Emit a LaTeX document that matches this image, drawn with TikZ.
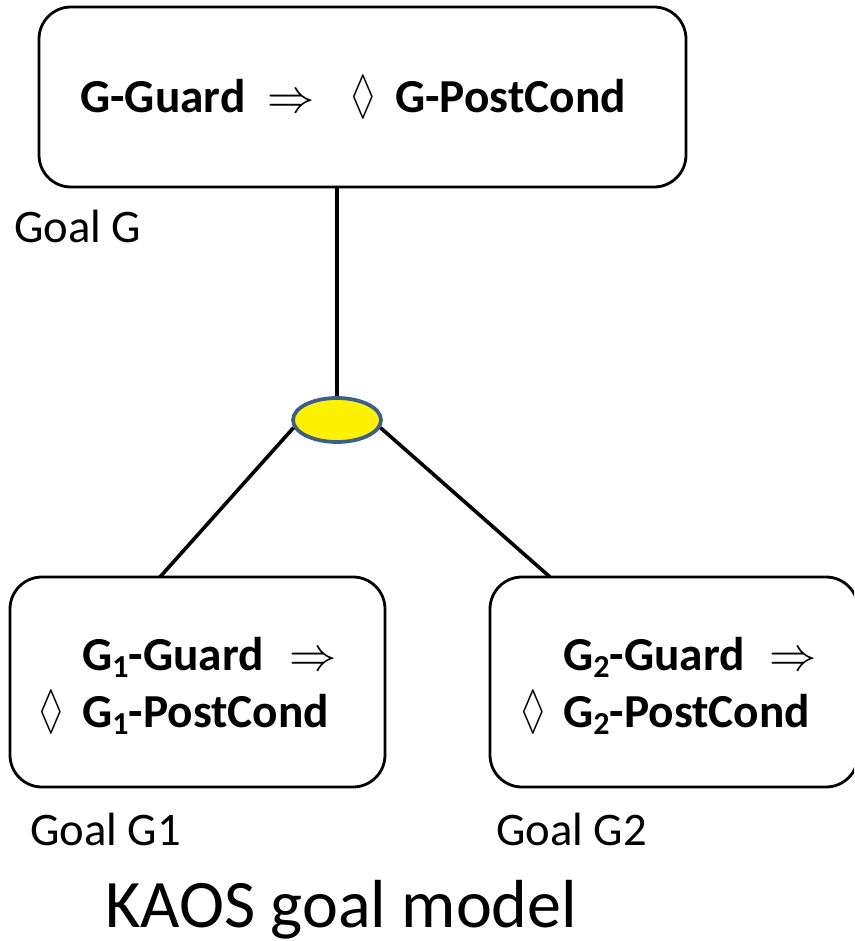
\RequirePackage{fix-cm}
\documentclass[tikz,border=0pt]{standalone}
\usepackage{fontspec}
\usepackage{amssymb}
\usepackage{graphicx}
\setmainfont{Carlito}
\definecolor{ellborder}{HTML}{3B5E8C}
\newcommand\gsub[1]{\raisebox{-0.32ex}{\fontsize{24}{24}\selectfont #1}}
\newcommand\impl{\scalebox{1.0}[1.0]{$\Rightarrow$}}
\newcommand\loz{\scalebox{0.75}[1.12]{$\lozenge$}}
\tikzset{
  goalbox/.style={draw=black, line width=2.1pt, rounded corners=24pt, rectangle, inner sep=0pt},
  conn/.style={draw=black, line width=2.7pt},
  btxt/.style={anchor=base west, inner sep=0pt, font=\fontsize{35.5}{40}\selectfont\bfseries},
  ltxt/.style={anchor=base west, inner sep=0pt, font=\fontsize{35}{40}\selectfont},
  andnode/.style={ellipse, draw=ellborder, fill=yellow, line width=2.8pt, inner sep=0pt}
}
\usetikzlibrary{shapes.geometric}
\begin{document}
\begin{tikzpicture}[x=0.75pt, y=-0.75pt]
\useasboundingbox (0,0) rectangle (854,941);
\begin{scope}
\clip (0,0) rectangle (854,941);
% boxes
\node[goalbox, minimum width=647*0.75pt, minimum height=180*0.75pt] (top) at (362.5,97) {};
\node[goalbox, minimum width=375*0.75pt, minimum height=210*0.75pt] (lb) at (197.5,682) {};
\node[goalbox, minimum width=368*0.75pt, minimum height=210*0.75pt] (rb) at (674,682) {};
\end{scope}
% and-node
\node[andnode, minimum width=88*0.75pt, minimum height=44*0.75pt] (ell) at (337,420) {};
\coordinate (lbt) at (160,577);
\coordinate (rbt) at (550,577);
\draw[conn] (ell.north) -- (ell.north |- top.south);
\draw[conn] (ell.190) -- (lbt);
\draw[conn] (ell.-10) -- (rbt);
% top text
\node[btxt] (t1) at (80,113) {G-Guard};
\node[btxt] (t2) at (267,113) {\impl};
\node[btxt] (t3) at (351,113) {\loz};
\node[btxt] (t4) at (395,113) {G-PostCond};
% left box text
\node[btxt] (l1) at (82,670) {G\gsub{1}-Guard};
\node[btxt] (l2) at (289,670) {\impl};
\node[btxt] (l3) at (39,727) {\loz};
\node[btxt] (l4) at (82,727) {G\gsub{1}-PostCond};
% right box text
\node[btxt] (r1) at (563,670) {G\gsub{2}-Guard};
\node[btxt] (r2) at (769,670) {\impl};
\node[btxt] (r3) at (521,727) {\loz};
\node[btxt] (r4) at (563,727) {G\gsub{2}-PostCond};
% labels
\node[ltxt] (gG) at (14,243) {Goal G};
\node[ltxt] (gG1) at (30,845) {Goal G1};
\node[ltxt] (gG2) at (496,845) {Goal G2};
\node[anchor=base west, inner sep=0pt, font=\fontsize{51}{56}\selectfont] (title) at (105,927) {KAOS goal model};
\end{tikzpicture}
\end{document}
